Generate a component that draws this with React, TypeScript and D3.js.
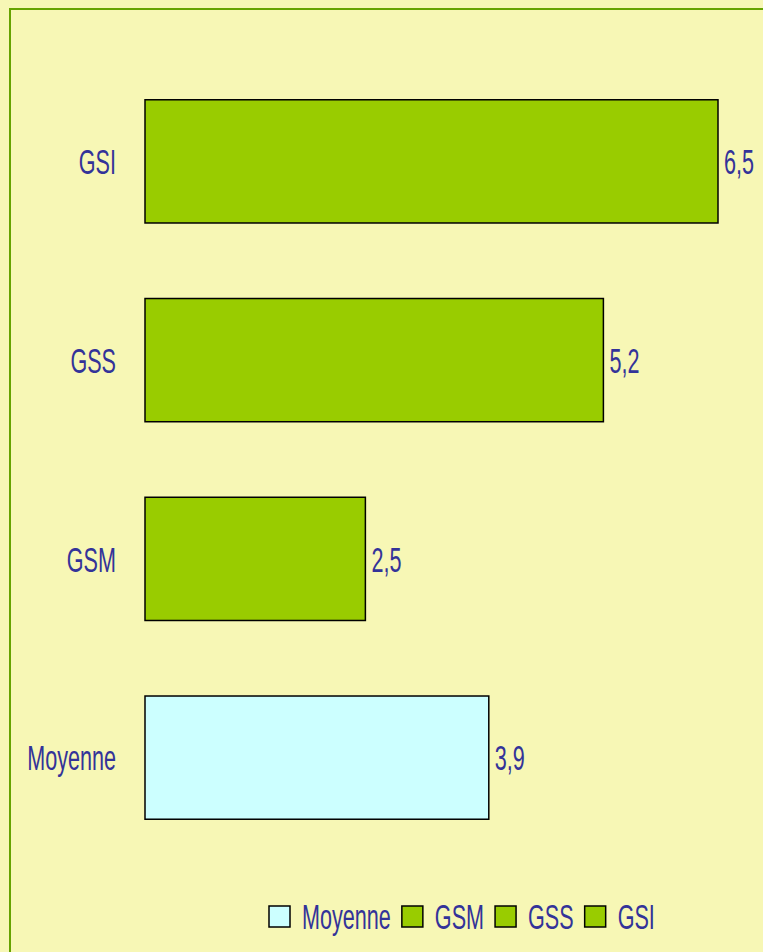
// App.tsx
// Horizontal bar chart: GSI / GSS / GSM vs. the average (Moyenne).
import React, { useMemo } from 'react';
import { scaleBand, scaleLinear } from 'd3';

const categories = ['GSI', 'GSS', 'GSM', 'Moyenne'];
const values = [6.5, 5.2, 2.5, 3.9];
const legendOrder = ['Moyenne', 'GSM', 'GSS', 'GSI'];

const WIDTH = 763;
const HEIGHT = 952;
const BG = '#F7F7B5';
const FRAME = '#66A300';
const GREEN = '#99CC00';
const CYAN = '#CCFFFF';
const TEXT = '#333399';
const FONT = '"Liberation Sans", Arial, sans-serif';
const SQUEEZE = 0.6; // condensed look

const colorFor = (c: string) => (c === 'Moyenne' ? CYAN : GREEN);
const fmt = (v: number) => v.toFixed(1).replace('.', ',');

// measure a label as it will be drawn (after the horizontal squeeze)
const measure = (text: string, size: number) => {
  const ctx = document.createElement('canvas').getContext('2d');
  if (!ctx) return text.length * size * 0.3;
  ctx.font = `${size}px "Liberation Sans"`;
  return ctx.measureText(text).width * SQUEEZE;
};

const Label: React.FC<{
  x: number;
  y: number;
  size: number;
  anchor?: 'start' | 'end';
  children: string;
}> = ({ x, y, size, anchor = 'start', children }) => (
  <text
    transform={`translate(${x},${y}) scale(${SQUEEZE},1)`}
    textAnchor={anchor}
    dominantBaseline="central"
    fontFamily={FONT}
    fontSize={size}
    fill={TEXT}
  >
    {children}
  </text>
);

export default function App() {
  const x = scaleLinear().domain([0, 6.5]).range([145, 718]);
  const y = scaleBand<string>()
    .domain(categories)
    .range([62, 857])
    .paddingInner(0.38)
    .paddingOuter(0.19);

  const legend = useMemo(() => {
    let cx = 269;
    return legendOrder.map((name) => {
      const item = { name, x: cx };
      cx += 21 + 12 + measure(name, 36) + 11;
      return item;
    });
  }, []);

  return (
    <div
      style={{
        position: 'absolute',
        left: 0,
        top: 0,
        width: WIDTH,
        height: HEIGHT,
        background: BG,
        overflow: 'hidden',
      }}
    >
      <svg width={WIDTH} height={HEIGHT} style={{ display: 'block' }}>
        <rect
          x={10}
          y={9}
          width={WIDTH + 20}
          height={HEIGHT + 20}
          fill={BG}
          stroke={FRAME}
          strokeWidth={2}
        />

        {categories.map((c, i) => {
          const top = y(c) ?? 0;
          const mid = top + y.bandwidth() / 2;
          return (
            <g key={c}>
              <rect
                x={x(0)}
                y={top}
                width={x(values[i]) - x(0)}
                height={y.bandwidth()}
                fill={colorFor(c)}
                stroke="#000"
                strokeWidth={1.5}
              />
              <Label x={116} y={mid} size={36} anchor="end">
                {c}
              </Label>
              <Label x={x(values[i]) + 6} y={mid} size={36}>
                {fmt(values[i])}
              </Label>
            </g>
          );
        })}

        {legend.map((item) => (
          <g key={item.name}>
            <rect
              x={item.x}
              y={906}
              width={21}
              height={21}
              fill={colorFor(item.name)}
              stroke="#000"
              strokeWidth={1.5}
            />
            <Label x={item.x + 33} y={916} size={36}>
              {item.name}
            </Label>
          </g>
        ))}
      </svg>
    </div>
  );
}
